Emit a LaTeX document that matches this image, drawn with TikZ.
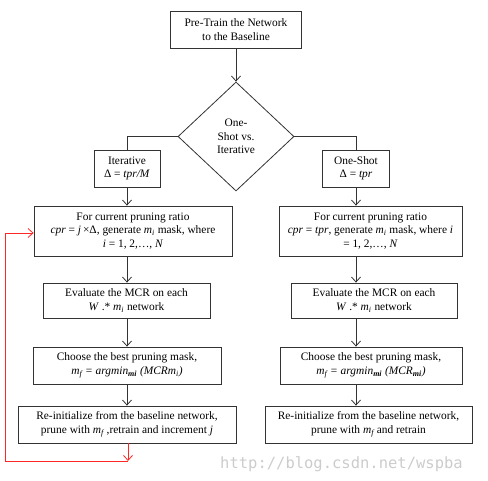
\documentclass[tikz,border=0pt]{standalone}
\usepackage{fontspec}
\setmainfont{Liberation Serif}
\newfontfamily\wmfont{DejaVu Sans Mono}
\usetikzlibrary{shapes.geometric,arrows.meta}
\begin{document}
\begin{tikzpicture}[x=1pt,y=-1pt,
    every node/.style={font=\fontsize{11.4}{13.5}\selectfont},
    box/.style={rectangle,draw=black!80,line width=0.8pt,align=center,inner sep=0pt},
    decision/.style={diamond,draw=black!80,line width=0.8pt,align=center,inner sep=0pt,
      minimum width=116pt,minimum height=109pt},
    flow/.style={draw=black!80,line width=0.8pt,-{Straight Barb[length=5pt,width=9pt]}},
    loop/.style={draw=red!85,line width=0.8pt,-{Straight Barb[length=5pt,width=9pt]}}]
  \useasboundingbox (0,0) rectangle (488,481);
  \node at (236,29.5) [box, minimum width=131pt, minimum height=37pt] (pre) {Pre-Train the Network\\to the Baseline};
  \node at (236,136.5) [decision] (dec) {One-\\Shot vs.\\Iterative};
  \node at (127,168.5) [box, minimum width=66pt, minimum height=37pt] (iter) {Iterative\\Δ = \textit{tpr/M}};
  \node at (356,168.5) [box, minimum width=67pt, minimum height=37pt] (one) {One-Shot\\Δ = \textit{tpr}};
  % iterative branch
  \node at (133,231) [box, minimum width=198pt, minimum height=50pt] (forL) {For current pruning ratio\\\textit{cpr} = \textit{j}\,×Δ, generate \textit{m\textsubscript{i}} mask, where\\\textit{i} = 1, 2,…, \textit{N}};
  \node at (126.5,300.5) [box, minimum width=167pt, minimum height=35pt] (evalL) {Evaluate the MCR on each\\\textit{W} .* \textit{m\textsubscript{i}} network};
  \node at (127,365.5) [box, minimum width=188pt, minimum height=37pt] (chooseL) {Choose the best pruning mask,\\\textit{m\textsubscript{f} = argmin\textsubscript{\textbf{mi}} (MCRm\textsubscript{i})}};
  \node at (127,424.5) [box, minimum width=218pt, minimum height=37pt] (reinitL) {Re-initialize from the baseline network,\\prune with \textit{m\textsubscript{f}} ,retrain and increment \textit{j}};
  % one-shot branch
  \node at (370.5,231) [box, minimum width=183pt, minimum height=50pt] (forR) {For current pruning ratio\\\textit{cpr} = \textit{tpr}, generate \textit{m\textsubscript{i}} mask, where \textit{i}\\= 1, 2,…, \textit{N}};
  \node at (374,300.5) [box, minimum width=166pt, minimum height=35pt] (evalR) {Evaluate the MCR on each\\\textit{W} .* \textit{m\textsubscript{i}} network};
  \node at (371,365.5) [box, minimum width=182pt, minimum height=37pt] (chooseR) {Choose the best pruning mask,\\\textit{m\textsubscript{f} = argmin\textsubscript{\textbf{mi}} (MCR\textsubscript{\textbf{mi}})}};
  \node at (368.5,424.5) [box, minimum width=207pt, minimum height=37pt] (reinitR) {Re-initialize from the baseline network,\\prune with \textit{m\textsubscript{f}} and retrain};
  \node at (341.5,464) [font=\wmfont\fontsize{15.5}{16}\selectfont, text=black!20] (mark) {http://blog.csdn.net/wspba};
  \coordinate (loopA) at (128,461);
  \coordinate (loopB) at (5,461);
  \draw[flow] (pre) -- (dec);
  \draw[draw=black!80,line width=0.8pt] (dec.west) -| (iter.north);
  \draw[draw=black!80,line width=0.8pt] (dec.east) -| (one.north);
  \draw[flow] (iter.south) -- (iter.south |- forL.north);
  \draw[flow] (forL.south -| iter.south) -- (evalL.north -| iter.south);
  \draw[flow] (evalL.south -| iter.south) -- (chooseL.north -| iter.south);
  \draw[flow] (chooseL.south -| iter.south) -- (reinitL.north -| iter.south);
  \draw[flow] (one.south) -- (one.south |- forR.north);
  \draw[flow] (forR.south -| one.south) -- (evalR.north -| one.south);
  \draw[flow] (evalR.south -| one.south) -- (chooseR.north -| one.south);
  \draw[flow] (chooseR.south -| one.south) -- (reinitR.north -| one.south);
  \draw[loop] (reinitL.south -| loopA) -- (loopA);
  \draw[loop] (loopA) -- (loopB) |- ([yshift=-2pt]forL.west);
\end{tikzpicture}
\end{document}
